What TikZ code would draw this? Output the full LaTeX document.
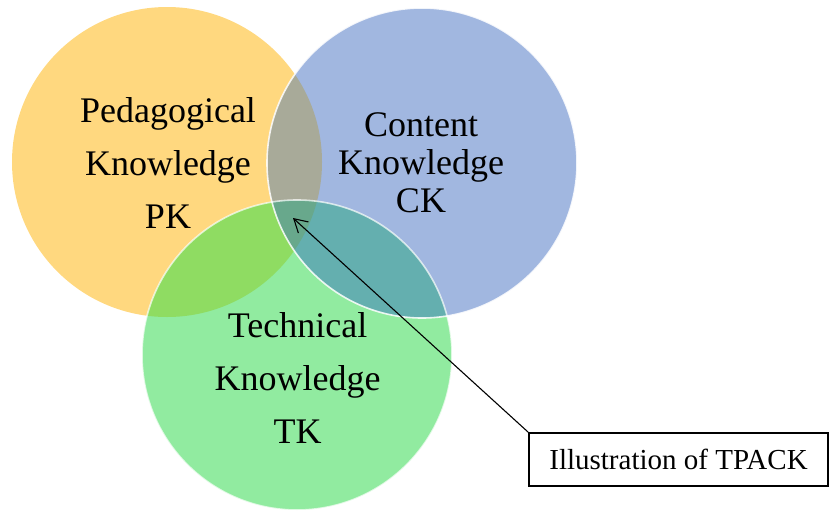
\documentclass[tikz,border=0pt]{standalone}
\usepackage{fontspec}
\setmainfont{Liberation Serif}
\usetikzlibrary{arrows.meta}
\definecolor{cyel}{HTML}{FFD87F}
\definecolor{cblu}{HTML}{A1B7E0}
\definecolor{cgrn}{HTML}{91EBA0}
\definecolor{cyb}{HTML}{A8AA99}
\definecolor{cyg}{HTML}{8FDC62}
\definecolor{cbg}{HTML}{64AFAF}
\definecolor{cybg}{HTML}{68A88C}
\tikzset{
  lbl/.style={align=center, inner sep=0pt, font=\fontsize{36}{53}\selectfont},
  lbltight/.style={align=center, inner sep=0pt, font=\fontsize{36}{38}\selectfont},
  callout/.style={draw=black, line width=1.8pt, fill=white, inner sep=0pt,
    minimum width=299pt, minimum height=53pt, font=\fontsize{29}{34}\selectfont},
  rim/.style={draw=white, line width=1.6pt},
  pointer/.style={line width=1.1pt, -{Straight Barb[length=13pt,width=15pt,line width=1.1pt]}}
}
\begin{document}
\begin{tikzpicture}[x=1pt,y=-1pt]
\useasboundingbox (0,0) rectangle (830,514);
\coordinate (yc) at (167,162);
\coordinate (bc) at (422,163);
\coordinate (gc) at (297,355);
\def\R{155}
% base fills
\fill[cyel] (yc) circle[radius=\R];
\fill[cblu] (bc) circle[radius=\R];
\fill[cgrn] (gc) circle[radius=\R];
% overlaps
\begin{scope}
  \clip (yc) circle[radius=\R];
  \fill[cyb] (bc) circle[radius=\R];
  \fill[cyg] (gc) circle[radius=\R];
  \clip (bc) circle[radius=\R];
  \fill[cybg] (gc) circle[radius=\R];
\end{scope}
\begin{scope}
  \clip (bc) circle[radius=\R];
  \clip (gc) circle[radius=\R];
  \fill[cbg] (bc) circle[radius=\R];
  \clip (yc) circle[radius=\R];
  \fill[cybg] (gc) circle[radius=\R];
\end{scope}
% white rims
\draw[rim, draw opacity=0.85] (bc) circle[radius=\R];
\draw[rim, draw opacity=0.7] (gc) circle[radius=\R];
% labels
\node[lbl] (pk) at (168,162.7) {Pedagogical\\Knowledge\\PK};
\node[lbltight] (ck) at (421,162.8) {Content\\Knowledge\\CK};
\node[lbl] (tk) at (297.5,378.2) {Technical\\Knowledge\\TK};
% callout
\node[callout] (box) at (678.5,459.5) {Illustration of TPACK};
\coordinate (tip) at (293,218);
\draw[pointer] (box.north west) -- (tip);
\end{tikzpicture}
\end{document}
